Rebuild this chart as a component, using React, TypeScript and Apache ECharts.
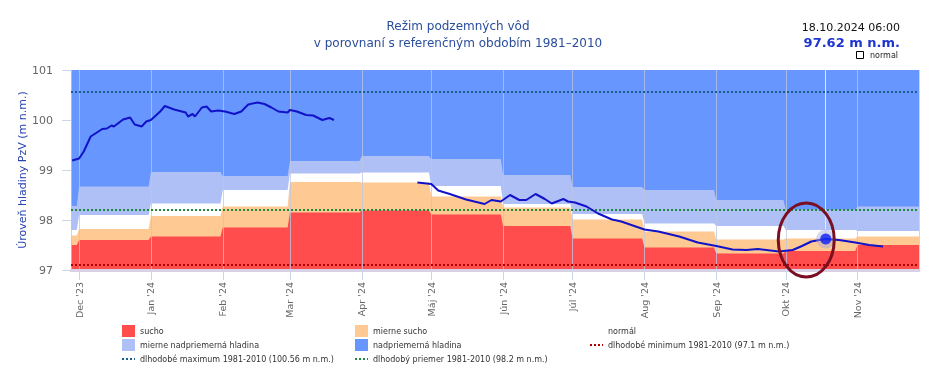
import React, { useEffect, useRef } from 'react';
import * as echarts from 'echarts';

const FONT = 'DejaVu Sans';

const axisStart = '2023-11-27 12:00';
const axisEnd = '2024-11-27 12:00';
const yMin = 97;
const yMax = 101;
const yStep = 1;

const monthNames = ['Jan', 'Feb', 'Mar', 'Apr', 'Máj', 'Jún', 'Júl', 'Aug', 'Sep', 'Okt', 'Nov', 'Dec'];

// Monthly reference bands (upper limit of each category)
const bandMonths = ['2023-11', '2023-12', '2024-01', '2024-02', '2024-03', '2024-04', '2024-05', '2024-06', '2024-07', '2024-08', '2024-09', '2024-10', '2024-11'];
const suchoTop = [97.5, 97.6, 97.67, 97.85, 98.15, 98.19, 98.11, 97.88, 97.63, 97.45, 97.33, 97.38, 97.5];
const mierneSuchoTop = [97.69, 97.82, 98.08, 98.27, 98.76, 98.75, 98.47, 98.25, 98.01, 97.77, 97.61, 97.63, 97.67];
const normalTop = [97.8, 98.1, 98.33, 98.6, 98.93, 98.95, 98.68, 98.32, 98.12, 97.93, 97.88, 97.8, 97.78];
const mierneNadTop = [98.28, 98.67, 98.96, 98.88, 99.18, 99.28, 99.22, 98.9, 98.66, 98.6, 98.4, 98.21, 98.27];

// Long-term levels
const longMax = 100.56;
const longAvg = 98.2;
const longMin = 97.1;

// Measured groundwater level
const seg1Dates = ['2023-11-28', '2023-12-01', '2023-12-03', '2023-12-06', '2023-12-08', '2023-12-11', '2023-12-13', '2023-12-15', '2023-12-16', '2023-12-20', '2023-12-23', '2023-12-25', '2023-12-28', '2023-12-30', '2024-01-01', '2024-01-05', '2024-01-07', '2024-01-11', '2024-01-16', '2024-01-17', '2024-01-19', '2024-01-20', '2024-01-23', '2024-01-25', '2024-01-27', '2024-01-30', '2024-02-02', '2024-02-06', '2024-02-09', '2024-02-12', '2024-02-16', '2024-02-19', '2024-02-22', '2024-02-25', '2024-02-29', '2024-03-01', '2024-03-04', '2024-03-08', '2024-03-11', '2024-03-15', '2024-03-18', '2024-03-20'];
const seg1Values = [99.19, 99.23, 99.37, 99.67, 99.73, 99.82, 99.83, 99.89, 99.87, 100.01, 100.05, 99.91, 99.87, 99.97, 100.0, 100.17, 100.28, 100.21, 100.15, 100.07, 100.12, 100.07, 100.25, 100.27, 100.17, 100.19, 100.17, 100.12, 100.17, 100.31, 100.35, 100.32, 100.25, 100.17, 100.15, 100.2, 100.17, 100.1, 100.09, 100.0, 100.04, 100.0];
const seg2Dates = ['2024-04-25', '2024-05-01', '2024-05-04', '2024-05-09', '2024-05-16', '2024-05-24', '2024-05-27', '2024-05-31', '2024-06-04', '2024-06-08', '2024-06-11', '2024-06-15', '2024-06-19', '2024-06-22', '2024-06-27', '2024-06-29', '2024-07-02', '2024-07-07', '2024-07-12', '2024-07-18', '2024-07-22', '2024-08-01', '2024-08-07', '2024-08-16', '2024-08-24', '2024-09-01', '2024-09-08', '2024-09-14', '2024-09-19', '2024-09-28', '2024-10-04', '2024-10-08', '2024-10-12', '2024-10-18', '2024-10-24', '2024-10-31', '2024-11-06', '2024-11-12'];
const seg2Values = [98.75, 98.72, 98.59, 98.52, 98.41, 98.32, 98.4, 98.37, 98.5, 98.4, 98.4, 98.52, 98.42, 98.33, 98.42, 98.37, 98.35, 98.27, 98.13, 98.01, 97.97, 97.81, 97.77, 97.67, 97.55, 97.48, 97.41, 97.4, 97.42, 97.37, 97.4, 97.48, 97.57, 97.62, 97.6, 97.55, 97.5, 97.47];

const currentTime = '2024-10-18 06:00';
const currentValue = 97.62;

const COLORS = {
  sucho: '#ff4d4d',
  mierneSucho: '#ffc994',
  normal: '#ffffff',
  mierneNad: '#afc0f6',
  nad: '#6696fe',
  line: '#1212c8',
  max: '#1c5f8e',
  avg: '#1e8a3e',
  min: '#b00000',
};

function ts(s: string): number {
  const [d, t] = s.split(' ');
  const [y, m, day] = d.split('-').map(Number);
  let h = 0;
  let mi = 0;
  if (t) {
    [h, mi] = t.split(':').map(Number);
  }
  return new Date(y, m - 1, day, h, mi).getTime();
}

function bandPoints(tops: number[]) {
  const pts: [number, number][] = [];
  bandMonths.forEach((mStr, i) => {
    const [y, mo] = mStr.split('-').map(Number);
    const start = i === 0 ? ts(axisStart) : new Date(y, mo - 1, 1).getTime();
    const end = i === bandMonths.length - 1 ? ts(axisEnd) : new Date(y, mo, 0).getTime();
    pts.push([start, tops[i]], [end, tops[i]]);
  });
  return pts;
}

const dotIcon = 'path://M0,0M13,12M0,5h2v2h-2zM4,5h2v2h-2zM8,5h2v2h-2zM12,5h1v2h-1z';

export default function App() {
  const ref = useRef<HTMLDivElement>(null);

  useEffect(() => {
    if (!ref.current) return;
    const chart = echarts.init(ref.current, undefined, { renderer: 'svg' });

    const maxName = `dlhodobé maximum 1981-2010 (${longMax} m n.m.)`;
    const avgName = `dlhodobý priemer 1981-2010 (${longAvg} m n.m.)`;
    const minName = `dlhodobé minimum 1981-2010 (${longMin} m n.m.)`;

    const band = (name: string, color: string, tops: number[]) => ({
      name,
      type: 'line',
      data: bandPoints(tops),
      symbol: 'none',
      showSymbol: false,
      color,
      lineStyle: { width: 0, color },
      itemStyle: { color },
      areaStyle: { color, opacity: 1, origin: 'start' },
      z: 2,
      silent: true,
    });

    const refLine = (name: string, color: string, v: number) => ({
      name,
      type: 'line',
      data: [[ts(axisStart), v], [ts(axisEnd), v]],
      symbol: 'none',
      color,
      itemStyle: { color },
      lineStyle: { color, width: 2, type: [2, 2] },
      z: 4,
      silent: true,
    });

    const lineSeries = (dates: string[], vals: number[]) => ({
      name: 'hladina',
      type: 'line',
      data: dates.map((d, i) => [ts(d), vals[i]]),
      symbol: 'none',
      lineStyle: { color: COLORS.line, width: 2 },
      itemStyle: { color: COLORS.line },
      z: 5,
      silent: true,
    });

    const legendBase = {
      orient: 'vertical',
      itemWidth: 13,
      itemHeight: 12,
      itemGap: 2,
      padding: 0,
      selectedMode: false,
      itemStyle: { borderWidth: 0 },
      textStyle: { fontSize: 8, color: '#333', fontFamily: FONT },
    };

    const option: any = {
      animation: false,
      textStyle: { fontFamily: FONT },
      grid: { left: 71, right: 20, top: 70, bottom: 114, containLabel: false },
      legend: [
        { ...legendBase, left: 122, top: 325, data: [{ name: 'sucho', icon: 'rect' }, { name: 'mierne nadpriemerná hladina', icon: 'rect' }, { name: maxName, icon: dotIcon }] },
        { ...legendBase, left: 355, top: 325, data: [{ name: 'mierne sucho', icon: 'rect' }, { name: 'nadpriemerná hladina', icon: 'rect' }, { name: avgName, icon: dotIcon }] },
        { ...legendBase, left: 590, top: 325, data: [{ name: 'normál', icon: 'rect' }, { name: minName, icon: dotIcon }] },
      ],
      xAxis: {
        type: 'time',
        min: ts(axisStart),
        max: ts(axisEnd),
        splitNumber: 12,
        z: 3,
        axisLine: { show: true, lineStyle: { color: '#d8d0e4', width: 3 } },
        axisTick: { show: true, length: 10, lineStyle: { color: '#ccd6eb' } },
        splitLine: { show: true, lineStyle: { color: 'rgba(190,198,225,0.75)', width: 1 } },
        axisLabel: {
          rotate: 90,
          margin: 12,
          fontSize: 9.5,
          color: '#666',
          fontFamily: FONT,
          formatter: (v: number) => {
            const d = new Date(v);
            return `${monthNames[d.getMonth()]} '${String(d.getFullYear()).slice(2)}`;
          },
        },
      },
      yAxis: {
        type: 'value',
        min: yMin,
        max: yMax,
        interval: yStep,
        name: 'Úroveň hladiny PzV (m n.m.)',
        nameLocation: 'middle',
        nameGap: 43,
        nameMoveOverlap: false,
        nameTextStyle: { color: '#2a44b0', fontSize: 11, fontFamily: FONT },
        axisLine: { show: false },
        axisTick: { show: true, length: 9, lineStyle: { color: '#ccd6eb' } },
        splitLine: { show: false },
        axisLabel: { fontSize: 11, color: '#666', margin: 18, fontFamily: FONT },
      },
      series: [
        band('nadpriemerná hladina', COLORS.nad, bandMonths.map(() => yMax)),
        band('mierne nadpriemerná hladina', COLORS.mierneNad, mierneNadTop),
        band('normál', COLORS.normal, normalTop),
        band('mierne sucho', COLORS.mierneSucho, mierneSuchoTop),
        band('sucho', COLORS.sucho, suchoTop),
        refLine(maxName, COLORS.max, longMax),
        refLine(avgName, COLORS.avg, longAvg),
        refLine(minName, COLORS.min, longMin),
        lineSeries(seg1Dates, seg1Values),
        lineSeries(seg2Dates, seg2Values),
        {
          name: 'halo',
          type: 'scatter',
          data: [[ts(currentTime), currentValue]],
          symbolSize: 19,
          itemStyle: { color: 'rgba(165,165,220,0.55)' },
          z: 7,
          silent: true,
          markLine: {
            symbol: 'none',
            silent: true,
            label: { show: false },
            lineStyle: { color: '#e6e6ee', width: 1, type: 'solid' },
            data: [[{ coord: [ts(currentTime), currentValue] }, { coord: [ts(currentTime), yMax] }]],
          },
        },
        {
          name: 'aktuálna hladina',
          type: 'scatter',
          data: [[ts(currentTime), currentValue]],
          symbolSize: 11,
          itemStyle: { color: '#0a1ef5' },
          z: 8,
          silent: true,
        },
      ],
    };

    chart.setOption(option);

    const p = chart.convertToPixel({ xAxisIndex: 0, yAxisIndex: 0 }, [ts(currentTime), currentValue]) as number[];
    const d = new Date(ts(currentTime));
    const pad = (n: number) => String(n).padStart(2, '0');
    const stamp = `${pad(d.getDate())}.${pad(d.getMonth() + 1)}.${d.getFullYear()} ${pad(d.getHours())}:${pad(d.getMinutes())}`;

    chart.setOption({
      graphic: [
        { type: 'text', x: 458, y: 26, style: { text: 'Režim podzemných vôd', fill: '#2a4d9b', fontSize: 12, fontFamily: FONT, align: 'center', verticalAlign: 'middle' } },
        { type: 'text', x: 458, y: 43, style: { text: 'v porovnaní s referenčným obdobím 1981–2010', fill: '#2a4d9b', fontSize: 12, fontFamily: FONT, align: 'center', verticalAlign: 'middle' } },
        { type: 'text', x: 900, y: 27, style: { text: stamp, fill: '#111', fontSize: 11, fontFamily: FONT, align: 'right', verticalAlign: 'middle' } },
        { type: 'text', x: 900, y: 42, style: { text: `${currentValue.toFixed(2)} m n.m.`, fill: '#1f35d0', fontSize: 13, fontWeight: 'bold', fontFamily: FONT, align: 'right', verticalAlign: 'middle' } },
        { type: 'rect', shape: { x: 856.5, y: 51.5, width: 7, height: 7 }, style: { fill: '#fff', stroke: '#000', lineWidth: 1 } },
        { type: 'text', x: 870, y: 55, style: { text: 'normal', fill: '#222', fontSize: 8, fontFamily: FONT, align: 'left', verticalAlign: 'middle' } },
        { type: 'ellipse', z: 100, shape: { cx: p[0] - 19.5, cy: p[1] + 1, rx: 28, ry: 37 }, style: { fill: 'none', stroke: '#7a0f22', lineWidth: 3 } },
      ],
    });

    return () => chart.dispose();
  }, []);

  return <div ref={ref} style={{ position: 'fixed', left: 0, top: 0, width: 939, height: 384 }} />;
}
